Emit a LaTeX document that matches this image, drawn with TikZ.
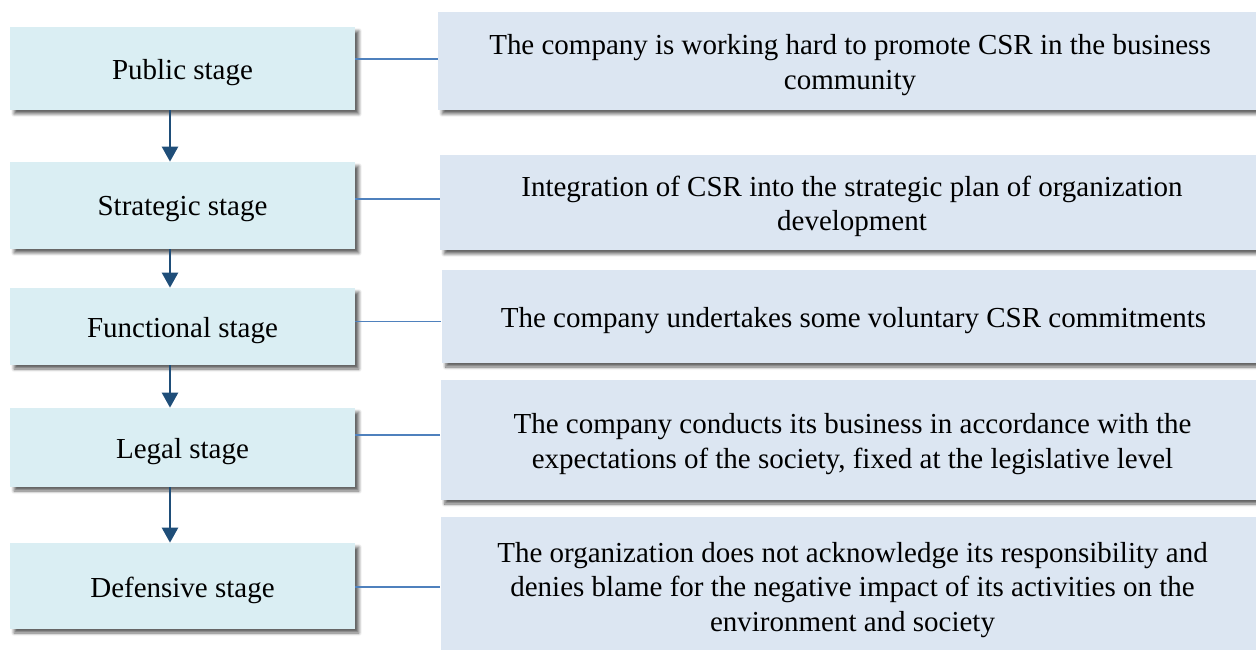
\documentclass[tikz,border=0pt]{standalone}
\usepackage{fontspec}
\setmainfont{Liberation Serif}
\usepackage{xcolor}
\usepackage{tikz}
\usetikzlibrary{arrows.meta,shadows.blur}
\definecolor{stagefill}{HTML}{DAEEF3}
\definecolor{notefill}{HTML}{DCE6F2}
\definecolor{arrowblue}{HTML}{1F4E79}
\definecolor{lineblue}{HTML}{4F81BD}

\begin{document}
\begin{tikzpicture}[x=0.02cm,y=-0.02cm,
  boxshadow/.style={blur shadow={shadow xshift=0.08cm,shadow yshift=-0.08cm,shadow blur steps=6,shadow blur radius=0.06cm,shadow opacity=60}},
  stagebox/.style={fill=stagefill,minimum width=6.9cm,boxshadow},
  notebox/.style={fill=notefill,minimum width=16.48cm,boxshadow},
  boxtext/.style={align=center,yshift=-0.08cm},
  stagearrow/.style={arrowblue,line width=1.4pt,-{Triangle[width=0.32cm,length=0.3cm]}},
  noteline/.style={lineblue,line width=1.1pt},
  font=\fontsize{16.5}{19.6}\selectfont]
\clip (0,0) rectangle (1256,649);
\useasboundingbox (0,0) rectangle (1256,649);
% stages on the left
\node[stagebox,minimum height=1.66cm,label={[boxtext]center:Public stage}](public) at (182.5,68.5){};
\node[stagebox,minimum height=1.74cm,label={[boxtext]center:Strategic stage}](strategic) at (182.5,205.5){};
\node[stagebox,minimum height=1.54cm,label={[boxtext]center:Functional stage}](functional) at (182.5,326.5){};
\node[stagebox,minimum height=1.58cm,label={[boxtext]center:Legal stage}](legal) at (182.5,447.5){};
\node[stagebox,minimum height=1.72cm,label={[boxtext]center:Defensive stage}](defensive) at (182.5,586){};
% descriptions on the right
\node[notebox,minimum height=1.96cm,label={[boxtext]center:The company is working hard to promote CSR in the business\\community}](n1) at (850,61){};
\node[notebox,minimum height=1.9cm,label={[boxtext]center:Integration of CSR into the strategic plan of organization\\development}](n2) at (852,202.5){};
\node[notebox,minimum height=1.86cm,label={[boxtext]center:The company undertakes some voluntary CSR commitments}](n3) at (853.5,316.5){};
\node[notebox,minimum height=2.4cm,label={[boxtext]center:The company conducts its business in accordance with the\\expectations of the society, fixed at the legislative level}](n4) at (852.5,440){};
\node[notebox,minimum height=2.76cm,label={[boxtext]center:The organization does not acknowledge its responsibility and\\denies blame for the negative impact of its activities on the\\environment and society}](n5) at (852.5,586){};
% arrows between stages
\coordinate (ax) at (170,0);
\draw[stagearrow](public.south -| ax)--(strategic.north -| ax);
\draw[stagearrow](strategic.south -| ax)--(functional.north -| ax);
\draw[stagearrow](functional.south -| ax)--(legal.north -| ax);
\draw[stagearrow](legal.south -| ax)--(defensive.north -| ax);
% links to descriptions
\draw[noteline]([yshift=0.04cm]n1.west)--([yshift=0.04cm]n1.west -| public.east);
\draw[noteline]([yshift=0.07cm]n2.west)--([yshift=0.07cm]n2.west -| strategic.east);
\draw[noteline]([yshift=-0.1cm]n3.west)--([yshift=-0.1cm]n3.west -| functional.east);
\draw[noteline]([yshift=0.1cm]n4.west)--([yshift=0.1cm]n4.west -| legal.east);
\draw[noteline]([yshift=-0.02cm]n5.west)--([yshift=-0.02cm]n5.west -| defensive.east);
\end{tikzpicture}
\end{document}
